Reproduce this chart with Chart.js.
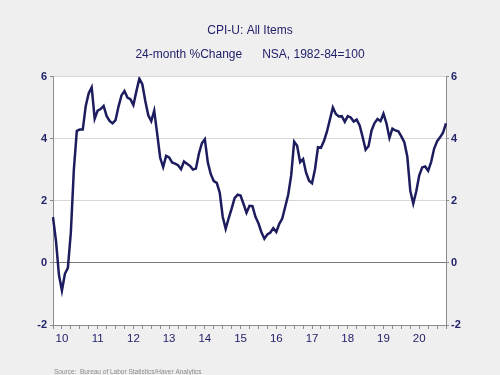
<!DOCTYPE html>
<html>
<head>
<meta charset="utf-8">
<script src="https://cdn.jsdelivr.net/npm/chart.js@4.4.1/dist/chart.umd.min.js"></script>
<style>
    body { margin: 0; background: #efefef; }
    canvas { display: block; }
</style>
</head>
<body>
<canvas id="myChart" width="500" height="375"></canvas>
<script>
// meses: abr 2010 .. abr 2021
const firstYear = 2010, firstMonth = 4;
const lastYear = 2021, lastMonth = 4;
const months = [];
for (let y = firstYear; y <= lastYear; y++) {
    for (let m = 1; m <= 12; m++) {
        if (y === firstYear && m < firstMonth) continue;
        if (y === lastYear && m > lastMonth) continue;
        months.push(y + '-' + String(m).padStart(2, '0'));
    }
}

// CPI-U, variacion % a 24 meses
const cpiChange24 = [
    1.48, 0.71, -0.39, -0.89, -0.35, -0.16, 0.99, 3.00, 4.26,
    4.30, 4.30, 5.06, 5.47, 5.66, 4.65, 4.91, 4.96, 5.06, 4.74, 4.58, 4.50,
    4.60, 5.04, 5.40, 5.54, 5.33, 5.28, 5.09, 5.53, 5.94, 5.76, 5.22, 4.76,
    4.57, 4.91, 4.16, 3.39, 3.09, 3.45, 3.40, 3.24, 3.20, 3.15, 3.02, 3.27,
    3.20, 3.13, 3.01, 3.04, 3.52, 3.86, 3.99, 3.24, 2.86, 2.64, 2.58, 2.27,
    1.49, 1.10, 1.44, 1.75, 2.09, 2.20, 2.17, 1.90, 1.62, 1.84, 1.83, 1.49,
    1.28, 0.99, 0.78, 0.92, 0.98, 1.12, 1.00, 1.26, 1.43, 1.81, 2.20, 2.82,
    3.91, 3.78, 3.25, 3.35, 2.91, 2.65, 2.57, 3.02, 3.73, 3.71, 3.93, 4.23,
    4.62, 5.01, 4.80, 4.72, 4.73, 4.55, 4.73, 4.69, 4.56, 4.62, 4.43, 4.06,
    3.65, 3.77, 4.27, 4.51, 4.64, 4.57, 4.81, 4.50, 4.03, 4.33, 4.27, 4.24,
    4.08, 3.89, 3.43, 2.33, 1.91, 2.30, 2.82, 3.08, 3.11, 2.97, 3.25, 3.68,
    3.92, 4.05, 4.20, 4.50
];

const yearLabels = ['10', '11', '12', '13', '14', '15', '16', '17', '18', '19', '20'];
const yTicks = [-2, 0, 2, 4, 6];

const navy = '#1c1c5e';
const textColor = '#23236b';
const axisGray = '#8c8c8c';

// fondo blanco del area del grafico + fuente
const bgPlugin = {
    id: 'bgPlugin',
    beforeDraw(chart) {
        const { ctx, chartArea } = chart;
        ctx.save();
        ctx.fillStyle = '#ffffff';
        ctx.fillRect(chartArea.left, chartArea.top, chartArea.right - chartArea.left, chartArea.bottom - chartArea.top);
        ctx.restore();
    },
    afterDraw(chart) {
        const { ctx } = chart;
        ctx.save();
        ctx.fillStyle = '#8a8a8a';
        ctx.font = '6.5px "Liberation Sans", Arial, sans-serif';
        ctx.textBaseline = 'middle';
        ctx.fillText('Source:  Bureau of Labor Statistics/Haver Analytics', 54, 372);
        ctx.restore();
    }
};

const ctx = document.getElementById('myChart').getContext('2d');

const myChart = new Chart(ctx, {
    type: 'line',
    data: {
        labels: months,
        datasets: [{
            label: 'CPI-U 24-month %Change',
            data: cpiChange24,
            borderColor: navy,
            borderWidth: 2.5,
            pointRadius: 0,
            tension: 0,
            yAxisID: 'y'
        }]
    },
    options: {
        responsive: false,
        animation: false,
        layout: { padding: 0 },
        plugins: {
            legend: { display: false },
            tooltip: { enabled: false },
            title: {
                display: true,
                text: 'CPI-U: All Items',
                color: textColor,
                font: { family: '"Liberation Sans", Arial, sans-serif', size: 12, weight: 'normal' },
                padding: { top: 23, bottom: 10 }
            },
            subtitle: {
                display: true,
                text: '24-month %Change      NSA, 1982-84=100',
                color: textColor,
                font: { family: '"Liberation Sans", Arial, sans-serif', size: 12, weight: 'normal' },
                padding: { top: 0, bottom: 15 }
            }
        },
        scales: {
            x: {
                type: 'category',
                offset: false,
                grid: {
                    drawOnChartArea: false,
                    drawTicks: true,
                    tickLength: 4,
                    tickColor: (c) => {
                        const lab = months[c.index];
                        if (!lab) return 'rgba(0,0,0,0)';
                        const m = Number(lab.slice(5));
                        return (m - 1) % 3 === 0 ? axisGray : 'rgba(0,0,0,0)';
                    }
                },
                border: { display: true, color: axisGray, width: 1 },
                ticks: {
                    autoSkip: false,
                    maxRotation: 0,
                    padding: 3,
                    color: textColor,
                    font: { family: '"Liberation Sans", Arial, sans-serif', size: 11.5 },
                    callback: function (value, index) {
                        const lab = months[index];
                        if (lab.slice(5) === '07') {
                            const yy = lab.slice(2, 4);
                            return yearLabels.includes(yy) ? yy : '';
                        }
                        return '';
                    }
                },
                afterFit: (scale) => { scale.height = 50; }
            },
            y: {
                position: 'left',
                min: -2,
                max: 6,
                afterBuildTicks: (scale) => { scale.ticks = yTicks.map(v => ({ value: v })); },
                grid: {
                    color: (c) => c.tick && c.tick.value === 0 ? '#7a7a7a' : (c.tick && c.tick.value === -2 ? axisGray : '#d6d6d6'),
                    lineWidth: 1,
                    tickLength: 3,
                    tickColor: axisGray
                },
                border: { display: true, color: axisGray, width: 1 },
                ticks: {
                    padding: 3,
                    color: textColor,
                    font: { family: '"Liberation Sans", Arial, sans-serif', size: 11, weight: 'bold' }
                },
                afterFit: (scale) => { scale.width = 53; }
            },
            y2: {
                position: 'right',
                min: -2,
                max: 6,
                afterBuildTicks: (scale) => { scale.ticks = yTicks.map(v => ({ value: v })); },
                grid: {
                    drawOnChartArea: false,
                    tickLength: 3,
                    tickColor: axisGray
                },
                border: { display: true, color: axisGray, width: 1 },
                ticks: {
                    padding: 2,
                    color: textColor,
                    font: { family: '"Liberation Sans", Arial, sans-serif', size: 11, weight: 'bold' }
                },
                afterFit: (scale) => { scale.width = 54; }
            }
        }
    },
    plugins: [bgPlugin]
});
</script>
</body>
</html>
